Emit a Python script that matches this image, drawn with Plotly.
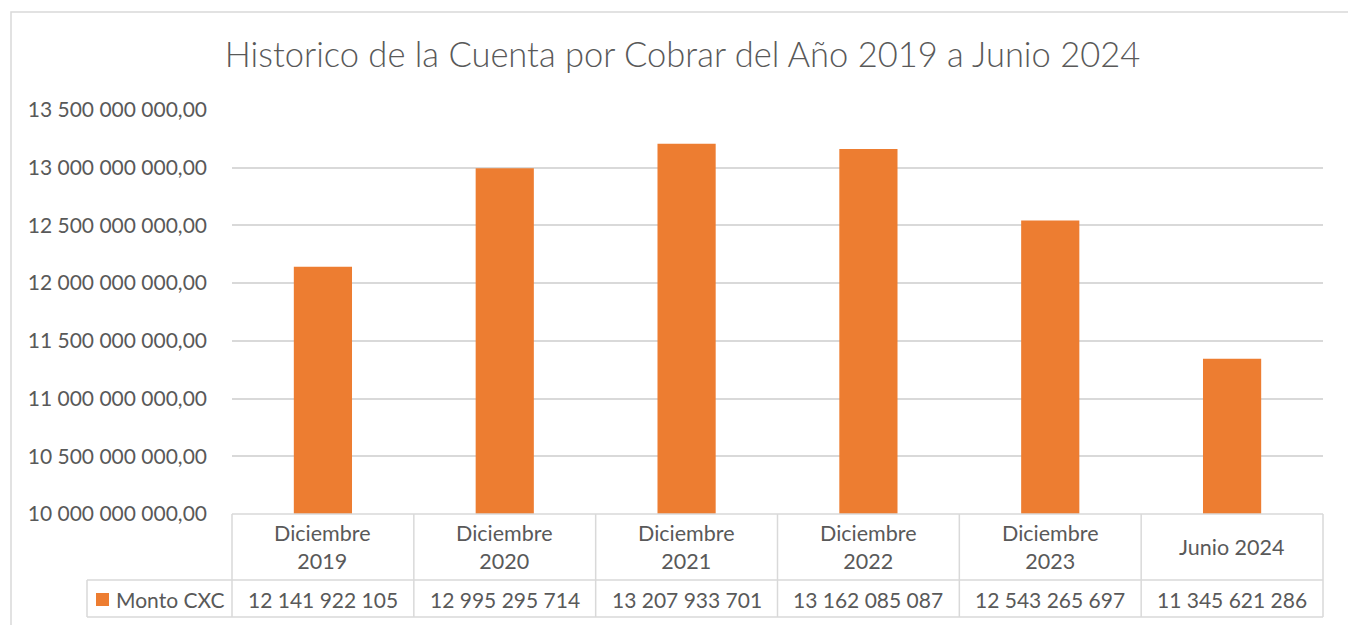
import plotly.graph_objects as go

categories = ["Diciembre 2019", "Diciembre 2020", "Diciembre 2021", "Diciembre 2022", "Diciembre 2023", "Junio 2024"]
header_labels = ["Diciembre<br>2019", "Diciembre<br>2020", "Diciembre<br>2021", "Diciembre<br>2022", "Diciembre<br>2023", "Junio 2024"]
monto_cxc = [12141922105, 12995295714, 13207933701, 13162085087, 12543265697, 11345621286]
series_name = "Monto CXC"
tick_values = [10000000000, 10500000000, 11000000000, 11500000000, 12000000000, 12500000000, 13000000000, 13500000000]
title_text = "Historico de la Cuenta por Cobrar del Año 2019 a Junio 2024"


def fmt_int(v):
    return f"{v:,}".replace(",", " ")


def fmt_tick(v):
    return f"{v:,.2f}".replace(",", " ").replace(".", ",")


OFF = 8  # page body margin offset
W, H = 1356 - OFF, 625 - OFF
L, R, T, B = 232 - OFF, 1323 - OFF, 110 - OFF, 514 - OFF
PW, PH = R - L, B - T
FONT = "Lato"
GRAY = "#595959"
LINE = "#D9D9D9"
ORANGE = "#ED7D31"


def px(x):
    return (x - OFF - L) / PW


def py(y):
    return (B - (y - OFF)) / PH


fig = go.Figure()
fig.add_trace(go.Bar(
    x=categories, y=monto_cxc, name=series_name,
    marker=dict(color=ORANGE, line=dict(width=0)), width=0.32,
))

shapes = []
n = len(categories)
# outer chart border
shapes.append(dict(type="rect", xref="paper", yref="paper",
                   x0=px(11), x1=px(1352), y0=py(700), y1=py(12),
                   line=dict(color=LINE, width=1.5), fillcolor="rgba(0,0,0,0)", layer="below"))
# table horizontal lines
shapes.append(dict(type="line", xref="paper", yref="paper", x0=0, x1=1, y0=0, y1=0,
                   line=dict(color=LINE, width=1.5)))
shapes.append(dict(type="line", xref="paper", yref="paper", x0=px(87), x1=1, y0=py(580), y1=py(580),
                   line=dict(color=LINE, width=1.5)))
shapes.append(dict(type="line", xref="paper", yref="paper", x0=px(87), x1=1, y0=py(617), y1=py(617),
                   line=dict(color=LINE, width=1.5)))
# legend cell left edge
shapes.append(dict(type="line", xref="paper", yref="paper", x0=px(87), x1=px(87), y0=py(580), y1=py(617),
                   line=dict(color=LINE, width=1.5)))
# column separators
for i in range(n + 1):
    xp = i / n
    shapes.append(dict(type="line", xref="paper", yref="paper", x0=xp, x1=xp, y0=0, y1=py(617),
                       line=dict(color=LINE, width=1.5)))
# legend square
shapes.append(dict(type="rect", xref="paper", yref="paper",
                   x0=px(96), x1=px(109), y0=py(606), y1=py(593),
                   line=dict(width=0), fillcolor=ORANGE))

annotations = []
for i, (lab, v) in enumerate(zip(header_labels, monto_cxc)):
    annotations.append(dict(x=(i + 0.5) / n, y=py(547), xref="paper", yref="paper",
                            text=lab, showarrow=False, xanchor="center", yanchor="middle",
                            font=dict(family=FONT, size=21.5, color=GRAY)))
    annotations.append(dict(x=(i + 0.5) / n, y=py(599), xref="paper", yref="paper",
                            text=fmt_int(v), showarrow=False, xanchor="center", yanchor="middle",
                            font=dict(family=FONT, size=21, color=GRAY)))
annotations.append(dict(x=px(114), y=py(599), xref="paper", yref="paper", text=series_name,
                        showarrow=False, xanchor="left", yanchor="middle",
                        font=dict(family=FONT, size=21, color=GRAY)))

fig.update_layout(
    width=W, height=H,
    margin=dict(l=L, r=W - R, t=T, b=H - B, pad=0),
    paper_bgcolor="white", plot_bgcolor="white",
    title=dict(text=title_text, x=((228 + 1137) / 2 - OFF) / W, xanchor="center",
               y=1 - (55 - OFF) / H, yanchor="middle",
               font=dict(family=FONT, size=34.5, color=GRAY, weight=300)),
    showlegend=False,
    bargap=0.68,
    shapes=shapes,
    annotations=annotations,
    xaxis=dict(range=[-0.5, n - 0.5], showticklabels=False, showgrid=False, zeroline=False,
               showline=False, ticks=""),
    yaxis=dict(range=[10000000000, 13500000000], tickvals=tick_values,
               ticktext=[fmt_tick(v) for v in tick_values],
               showgrid=True, gridcolor=LINE, gridwidth=1.5, zeroline=False, showline=False,
               ticks="", ticklabelstandoff=24,
               tickfont=dict(family=FONT, size=21, color=GRAY)),
)

fig.write_html("out.html")
